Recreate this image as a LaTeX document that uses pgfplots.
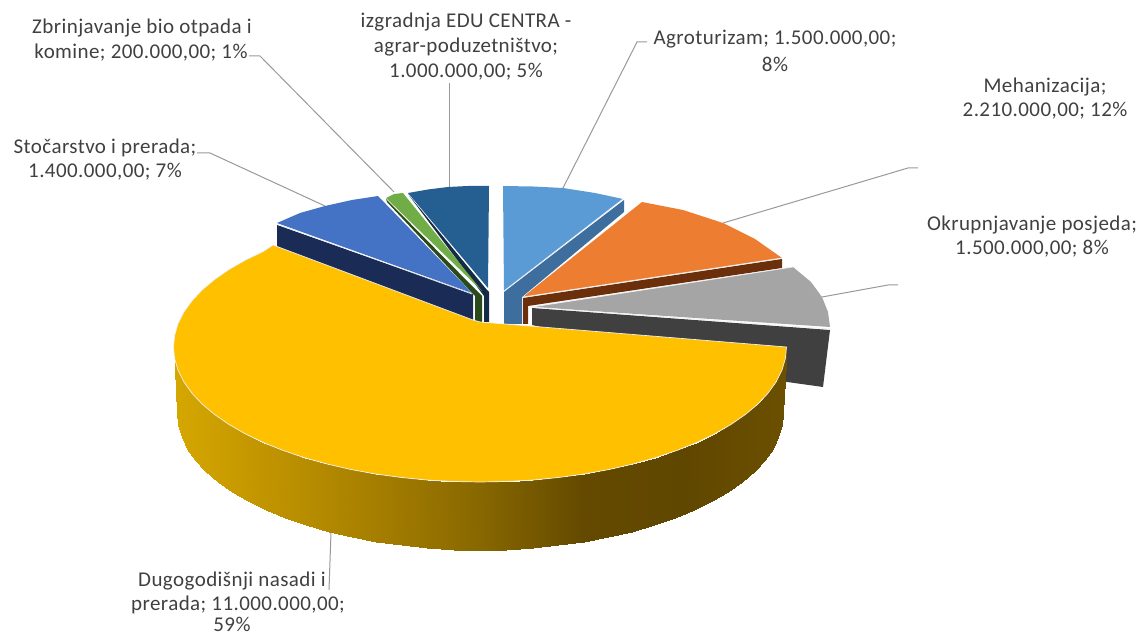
\documentclass[border=0pt]{standalone}
\usepackage{fontspec}
\setmainfont{Carlito}[LetterSpace=2]
\usepackage{pgfplots}
\pgfplotsset{compat=1.18}
\definecolor{txt}{HTML}{404040}
\definecolor{lead}{HTML}{999999}
\definecolor{aT}{HTML}{5B9BD5}\definecolor{aS}{HTML}{3E6E9E}
\definecolor{oT}{HTML}{ED7D31}\definecolor{oS}{HTML}{6B2F0B}
\definecolor{gT}{HTML}{A5A5A5}\definecolor{gS}{HTML}{404040}
\definecolor{yT}{HTML}{FFC000}
\definecolor{bT}{HTML}{4472C4}\definecolor{bS}{HTML}{1A2C55}
\definecolor{vT}{HTML}{70AD47}\definecolor{vS}{HTML}{2A4A1A}
\definecolor{eT}{HTML}{255E91}\definecolor{eS}{HTML}{152B45}
\definecolor{rim}{HTML}{EDEFF3}
\tikzset{lbl/.style={font=\fontsize{21}{24}\selectfont, text=txt, inner sep=0pt, anchor=center}}
\begin{document}
\begin{tikzpicture}
\path[use as bounding box] (0,0) rectangle (1141pt,636pt);
\begin{axis}[
  at={(0,0)}, anchor=south west,
  scale only axis, width=1141pt, height=636pt,
  xmin=0, xmax=1141, ymin=0, ymax=636, y dir=reverse,
  axis lines=none, ticks=none, clip=false,
  colormap={sidegold}{rgb255=(214,167,0) rgb255=(190,146,0) rgb255=(165,126,0) rgb255=(135,103,0) rgb255=(100,74,0) rgb255=(96,71,0) rgb255=(108,80,0)},
  point meta min=174, point meta max=787
]
% leader lines
\addplot[lead, line width=1pt] coordinates {(249,56) (260,56) (394,192)};
\addplot[lead, line width=1pt] coordinates {(449,83) (449,187)};
\addplot[lead, line width=1pt] coordinates {(197,153) (210,153) (325,206)};
\addplot[lead, line width=1pt] coordinates {(647,42) (637,42) (563,188)};
\addplot[lead, line width=1pt] coordinates {(723,223) (908,168) (918,168)};
\addplot[lead, line width=1pt] coordinates {(822,297) (888,285) (898,285)};
\addplot[lead, line width=1pt] coordinates {(331,532) (329,590)};
% Agroturizam
\addplot[fill=aS, draw=none] coordinates {(504,292) (624,200) (624,212) (522,297) (522,324) (504,324)} --cycle;
\addplot[fill=aT, draw=none] coordinates {(503,186) (533,186.5) (563,188) (595,193) (623,199) (504,291)} --cycle;
\addplot[rim, line width=0.7pt] coordinates {(504,291) (623,199)};
% Mehanizacija
\addplot[fill=oS, draw=none] coordinates {(523,298) (782,259) (782,268) (528,306) (528,324) (523,324)} --cycle;
\addplot[fill=oT, draw=none] coordinates {(523,297) (642,202) (683,210) (723,223) (755,239) (782,258)} --cycle;
\addplot[rim, line width=0.7pt] coordinates {(523,297) (782,258)};
% Okrupnjavanje
\addplot[fill=gS, draw=none] coordinates {(532,308) (830,330) (823,387) (780,381) (532,325)} --cycle;
\addplot[fill=gT, draw=none] coordinates {(532,307) (793,267) (811,282) (822,297) (828,312) (830,327)} --cycle;
\addplot[rim, line width=0.7pt] coordinates {(793,267) (532,307) (830,329)};
% EDU centar
\addplot[fill=eS, draw=none] coordinates {(408,194) (487,290) (489,292) (489,322) (484,322) (484,296)} --cycle;
\addplot[fill=eT, draw=none] coordinates {(408,193) (428,189.5) (448,187) (468,186) (489,186) (488,288)} --cycle;
% Zbrinjavanje
\addplot[fill=vS, draw=none] coordinates {(386,199) (482,296) (482,322) (475,322) (475,296) (387,202)} --cycle;
\addplot[fill=vT, draw=none] coordinates {(386,198) (394,194) (403,193) (482,291)} --cycle;
% Stocarstvo
\addplot[fill=bS, draw=none] coordinates {(277,225) (473,294) (473,322) (277,247)} --cycle;
\addplot[fill=bT, draw=none] coordinates {(277,223) (300,213) (325,206) (352,200) (378,196) (472,293)} --cycle;
\addplot[rim, line width=0.7pt] coordinates {(277,224) (472,294)};
% Dugogodisnji: side
\addplot[surf, shader=interp, mesh/rows=2, point meta=x] table {
x y
786.5 347
785.3 358.8
781.9 370.4
776.1 381.9
768.0 393.2
757.8 404.1
745.4 414.5
731.1 424.4
714.8 433.8
696.7 442.5
677.0 450.4
655.8 457.6
633.3 463.9
609.5 469.4
584.8 473.9
559.3 477.4
533.2 480.0
506.7 481.5
480 482
453.3 481.5
426.8 480.0
400.7 477.4
375.2 473.9
350.5 469.4
326.8 463.9
304.2 457.6
283.0 450.4
263.3 442.5
245.2 433.8
228.9 424.4
214.6 414.5
202.2 404.1
192.0 393.2
183.9 381.9
178.1 370.4
174.7 358.8
173.5 347
783 413
781.8 424.9
778.4 436.8
772.7 448.5
764.8 459.9
754.6 470.9
742.4 481.5
728.2 491.6
712.1 501.1
694.3 509.9
674.8 518.0
653.8 525.2
631.5 531.6
608.0 537.2
583.6 541.7
558.4 545.3
532.7 547.9
506.4 549.5
480 550
453.6 549.5
427.3 547.9
401.6 545.3
376.4 541.7
352.0 537.2
328.5 531.6
306.2 525.2
285.2 518.0
265.7 509.9
247.9 501.1
231.8 491.6
217.6 481.5
205.4 470.9
195.2 459.9
187.3 448.5
181.6 436.8
178.2 424.9
177 413
};
% Dugogodisnji: top
\addplot[fill=yT, draw=rim, line width=0.7pt] coordinates {
(480,322) (786.5,347) (785.3,358.8) (781.9,370.4) (776.1,381.9) (768.0,393.2) (757.8,404.1) (745.4,414.5) (731.1,424.4) (714.8,433.8) (696.7,442.5) (677.0,450.4) (655.8,457.6) (633.3,463.9) (609.5,469.4) (584.8,473.9) (559.3,477.4) (533.2,480.0) (506.7,481.5) (480,482) (453.3,481.5) (426.8,480.0) (400.7,477.4) (375.2,473.9) (350.5,469.4) (326.8,463.9) (304.2,457.6) (283.0,450.4) (263.3,442.5) (245.2,433.8) (228.9,424.4) (214.6,414.5) (202.2,404.1) (192.0,393.2) (183.9,381.9) (178.1,370.4) (174.7,358.8) (173.5,347) (174.7,335.2) (178.1,323.6) (183.9,312.1) (192.0,300.8) (202.2,289.9) (214.6,279.5) (228.9,269.6) (245.2,260.2) (263.3,251.5) (273,245) (473,320)} --cycle;
% labels
\node[lbl] at (142,28) {Zbrinjavanje bio otpada i};
\node[lbl] at (141,53) {komine; 200.000,00; 1\%};
\node[lbl] at (466,22) {izgradnja EDU CENTRA -};
\node[lbl] at (466,47) {agrar-poduzetništvo;};
\node[lbl] at (466,72) {1.000.000,00; 5\%};
\node[lbl] at (775,39) {Agroturizam; 1.500.000,00;};
\node[lbl] at (775,64) {8\%};
\node[lbl] at (1045,87) {Mehanizacija;};
\node[lbl] at (1045,111) {2.210.000,00; 12\%};
\node[lbl] at (1032,225) {Okrupnjavanje posjeda;};
\node[lbl] at (1032,249) {1.500.000,00; 8\%};
\node[lbl] at (105,148) {Stočarstvo i prerada;};
\node[lbl] at (105,172) {1.400.000,00; 7\%};
\node[lbl] at (232,581) {Dugogodišnji nasadi i};
\node[lbl] at (238,605) {prerada; 11.000.000,00;};
\node[lbl] at (232,624) {59\%};
\end{axis}
\end{tikzpicture}
\end{document}
